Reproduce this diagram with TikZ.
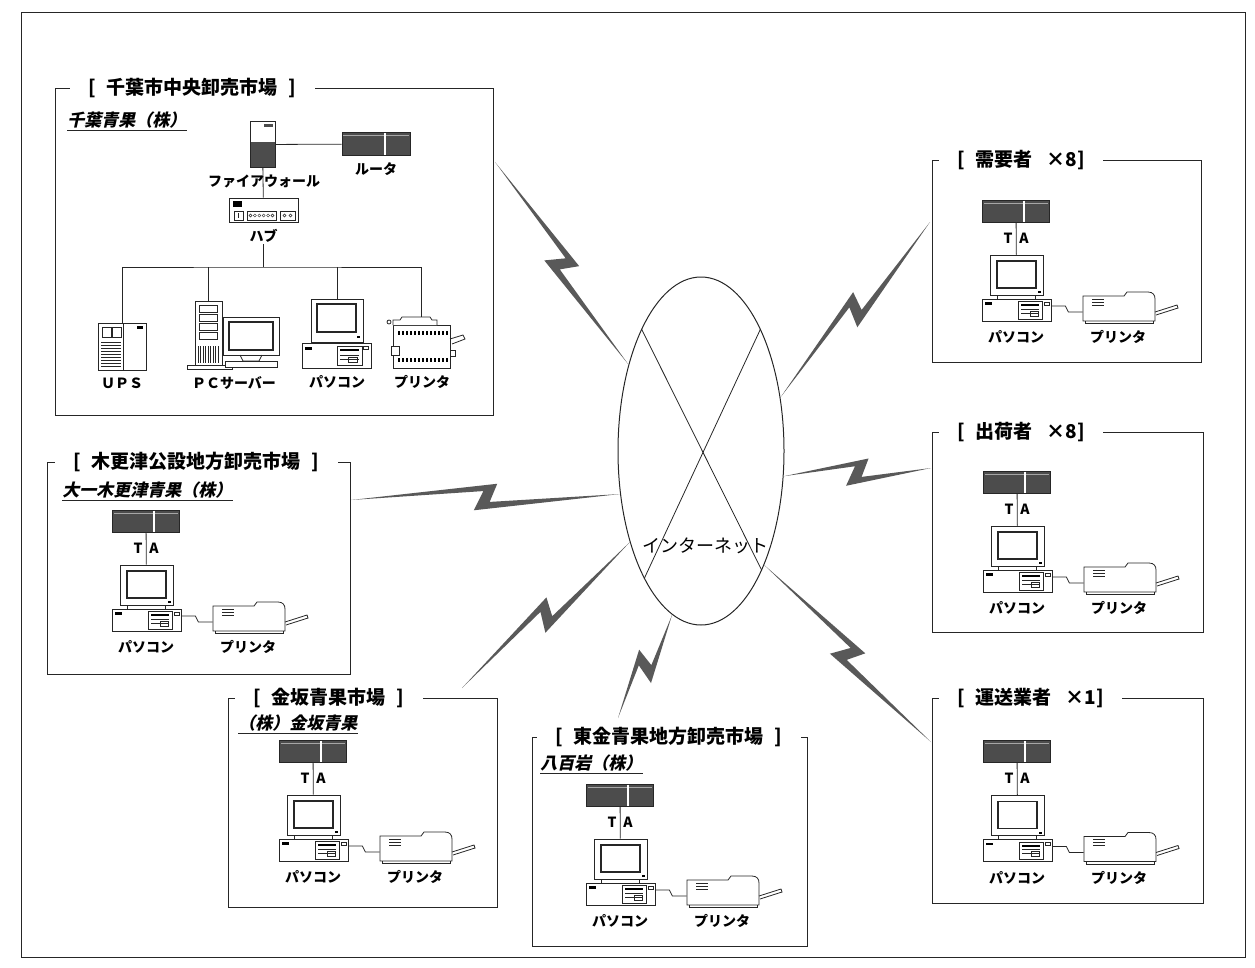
\documentclass[tikz,border=0pt]{standalone}
\usepackage{fontspec}
\setmainfont{Noto Sans CJK JP}
\newfontfamily\slantjp[FakeSlant=0.22]{Noto Sans CJK JP}
\usetikzlibrary{calc, shapes.geometric}

% lightning link between two points
\newcommand{\bolt}[2]{%
  \fill[boltfill] (#1)
    -- ($(#1)!0.5!(#2)!12pt!(#2)!13pt!90:(#2)$)
    -- ($(#1)!0.5!(#2)!4pt!(#2)!5pt!-90:(#2)$)
    -- (#2)
    -- ($(#1)!0.5!(#2)!-12pt!(#2)!13pt!-90:(#2)$)
    -- ($(#1)!0.5!(#2)!-2pt!(#2)!6pt!90:(#2)$)
    -- cycle;}

% TA + PC + printer, #1 prefix, (#2,#3) centre of the TA
\newcommand{\terminal}[3]{%
  \begin{scope}[shift={(#2,#3)}]
    \node[ta] (#1ta) at (0,0) {};
    \draw[white, line width=1.2pt] (8,-10.5) -- (8,10.5);
    \draw[black!35, line width=0.4pt] (-32,-8) -- (7,-8) (9,-8) -- (32,-8);
    \node[devlabel] (#1T) at (-8,27) {T};
    \node[devlabel] (#1A) at (8,27) {A};
    % monitor
    \node[dev, minimum width=53pt, minimum height=40pt] (#1mon) at (0.5,64) {};
    \draw[line width=1.1pt] (-19,50) rectangle (20,77);
    \fill (22,80) rectangle (25,82);
    \draw (-19,84) -- (-19,88) (19,84) -- (19,88);
    % desktop unit
    \node[dev, minimum width=69pt, minimum height=22pt] (#1pc) at (0.5,99) {};
    \fill (-31,91) rectangle (-24,93.5);
    \draw (2,90.5) rectangle (26,108);
    \fill (5,93) rectangle (23,95);
    \draw (5,98) -- (23,98) (5,102) -- (23,102);
    \draw (14,100) rectangle (22,105);
    \draw (28,91) rectangle (33,94);
    % printer
    \node[inner sep=0pt, minimum width=72pt, minimum height=25pt] (#1prn) at (103,97.5) {};
    \draw[fill=white] (67,85) -- (108,85) -- (111,81) -- (132,81)
      .. controls (137,81) and (139,84) .. (139,88) -- (139,110) -- (67,110) -- cycle;
    \draw (69,110) -- (69,112.5) -- (137,112.5) -- (137,110);
    \draw (139,101) -- (161,94) -- (162,97) -- (140,104);
    \draw (76,88) -- (88,88) (76,91) -- (88,91) (76,94) -- (88,94);
    % cables
    \draw[wire] (#1ta) -- (#1mon);
    \draw[wire] ([yshift=4pt]#1pc.east) -- ++(14,0) -- ++(3,6) -- ([yshift=-3.5pt]#1prn.west);
    \node[devlabel] (#1pcL) at (0,126) {パソコン};
    \node[devlabel] (#1prnL) at (102,126) {プリンタ};
  \end{scope}}

\begin{document}
\begin{tikzpicture}[
    x=1pt, y=-1pt,
    line width=0.8pt, draw=black!85,
    frame/.style={draw=black!85, line width=1pt},
    title/.style={fill=white, anchor=west, inner xsep=18pt, inner ysep=2pt, font=\bfseries\fontsize{19}{22}\selectfont},
    company/.style={anchor=west, inner xsep=0pt, inner ysep=2pt, font=\slantjp\bfseries\fontsize{17}{19}\selectfont},
    dev/.style={draw, line width=0.8pt, fill=white, inner sep=0pt},
    ta/.style={draw, line width=0.8pt, fill=black!70, minimum width=67pt, minimum height=22pt, inner sep=0pt},
    devlabel/.style={font=\bfseries\fontsize{14}{16}\selectfont, inner sep=1pt},
    wire/.style={draw=black!85, line width=0.8pt},
    boltfill/.style={fill=black!65}
]
\useasboundingbox (0,0) rectangle (1255,967);
\draw[frame] (21,12) rectangle (1245,957);

% the internet
\node[draw, ellipse, line width=1pt, minimum width=166pt, minimum height=348pt, inner sep=0pt] (net) at (701,451) {};
\draw (net.116) -- (net.-63);
\draw (net.64) -- (net.-114);
\node[font=\fontsize{18}{20}\selectfont] (netL) at (705,546) {インターネット};

% ---- Chiba central market
\draw[frame] (55,88) rectangle (493,415);
\node[title] (chibaT) at (70,88) {[\hspace{11pt}千葉市中央卸売市場\hspace{11pt}]};
\node[company] (chibaCo) at (67,120) {千葉青果（株）};
\draw (chibaCo.south west) -- (chibaCo.south east);

\node[dev, minimum width=25pt, minimum height=46pt] (fw) at (262.5,144.5) {};
\fill[black!70] (250.5,142) rectangle (274.5,167);
\fill[black!70] (264,124) rectangle (273,127);
\node[devlabel] (fwL) at (264,181) {ファイアウォール};

\node[ta, minimum width=68pt, minimum height=23pt] (rt) at (376,144) {};
\draw[white, line width=1.2pt] (385,133) -- (385,155);
\draw[black!35, line width=0.4pt] (343,135.5) -- (384,135.5) (386,135.5) -- (409,135.5);
\node[devlabel] (rtL) at (376,169) {ルータ};
\draw[wire] (fw) -- (rt);

\node[dev, minimum width=69pt, minimum height=24pt] (hub) at (263.5,210) {};
\fill (233,201) rectangle (242,207);
\draw (234,211) rectangle (243,220);
\draw (247,211) rectangle (276,220);
\draw (280,211) rectangle (295,220);
\foreach \i in {0,...,5} \draw[line width=0.4pt] (250.5+4.4*\i,215.5) circle (1.5pt);
\draw[line width=0.4pt] (284.5,215.5) circle (1.5pt) (290.5,215.5) circle (1.5pt);
\draw[line width=0.4pt] (238.5,213) -- (238.5,218);
\node[devlabel] (hubL) at (263.5,236) {ハブ};
\draw[wire] (fw) -- (hub);
\coordinate (bus) at (263.5,267);
\draw[wire] (hubL) -- (bus);

% UPS
\node[dev, minimum width=48pt, minimum height=47pt] (ups) at (122,346.5) {};
\draw (123,323) -- (123,370);
\draw (102,327) rectangle (111,337) (112,327) rectangle (121,337);
\foreach \y in {342,345,...,366} \draw[line width=0.5pt] (101,\y) -- (121,\y);
\fill (137,326) rectangle (143,328.5);
\node[devlabel] (upsL) at (122,383) {ＵＰＳ};

% PC server
\node[dev, minimum width=27pt, minimum height=64pt] (srv) at (208.5,333) {};
\foreach \y in {305,314,323,332} \draw (199,\y) rectangle (217,\y+7);
\foreach \x in {198,200.5,...,219} \draw[line width=0.4pt] (\x,346) -- (\x,363);
\draw[fill=white] (187,365) rectangle (232,369);
\node[dev, minimum width=56pt, minimum height=38pt] (srvMon) at (251,336) {};
\draw[line width=1.1pt] (229,322) rectangle (273,350);
\draw (240,355) -- (243,361) -- (259,361) -- (262,355);
\draw[fill=white] (225,361) rectangle (277,367);
\node[devlabel] (srvL) at (234,383) {ＰＣサーバー};

% PC
\node[dev, minimum width=52pt, minimum height=43pt] (chibaMon) at (337,320.5) {};
\draw[line width=1.1pt] (317,304) rectangle (356,332);
\fill (357,336) rectangle (360,338);
\node[dev, minimum width=69pt, minimum height=25pt] (chibaPc) at (336.5,355.5) {};
\fill (305,347) rectangle (312,349.5);
\draw (337,346) rectangle (362,365);
\fill (340,349) rectangle (359,351);
\draw (340,355) -- (359,355) (340,359) -- (359,359);
\draw (348,357) rectangle (357,362);
\draw (363,346) rectangle (368,349);
\node[devlabel] (chibaPcL) at (337,382) {パソコン};

% printer
\node[dev, minimum width=57pt, minimum height=43pt] (chibaPrn) at (421.5,346.5) {};
\foreach \x in {398,402,...,446} {
  \fill (\x,331) rectangle (\x+1.6,335);
  \fill (\x,358) rectangle (\x+1.6,362);
}
\draw[fill=white] (391,346) rectangle (399,355);
\draw (450,339) -- (463,335) -- (465,339) -- (452,344);
\draw (450,350) rectangle (455,356);
\node[devlabel] (chibaPrnL) at (422,382) {プリンタ};

% LAN
\draw[wire] (ups.north) |- (bus) -| (chibaPrn.north);
\draw[wire] (srv.north) -- (srv.north |- bus);
\draw[wire] (chibaMon.north) -- (chibaMon.north |- bus);
\draw[fill=white] (393,325) -- (393,320) -- (400,320) -- (402,317) -- (430,317) -- (432,320) -- (437,320) -- (437,325);
\draw[fill=white] (389,322) circle (2pt);

% ---- Kisarazu
\draw[frame] (47,462) rectangle (350,674);
\node[title] (kisT) at (55,462) {[\hspace{11pt}木更津公設地方卸売市場\hspace{11pt}]};
\node[company] (kisCo) at (62,490) {大一木更津青果（株）};
\draw (kisCo.south west) -- (kisCo.south east);
\terminal{kis}{146}{521}

% ---- Kanesaka
\draw[frame] (228,698) rectangle (497,907);
\node[title] (kanT) at (235,698) {[\hspace{11pt}金坂青果市場\hspace{11pt}]};
\node[company] (kanCo) at (238,723) {（株）金坂青果};
\draw (kanCo.south west) -- (kanCo.south east);
\terminal{kan}{313}{751}

% ---- Togane
\draw[frame] (532,737) rectangle (807,946);
\node[title] (togT) at (537,737) {[\hspace{11pt}東金青果地方卸売市場\hspace{11pt}]};
\node[company] (togCo) at (540,763) {八百岩（株）};
\draw (togCo.south west) -- (togCo.south east);
\terminal{tog}{620}{795}

% ---- users
\draw[frame] (932,160) rectangle (1201,362);
\node[title] (demT) at (939,160) {[\hspace{11pt}需要者\hspace{14pt}×8]};
\terminal{dem}{1016}{211}

\draw[frame] (932,432) rectangle (1203,632);
\node[title] (shuT) at (939,432) {[\hspace{11pt}出荷者\hspace{14pt}×8]};
\terminal{shu}{1017}{482}

\draw[frame] (932,698) rectangle (1203,903);
\node[title] (unsoT) at (939,698) {[\hspace{11pt}運送業者\hspace{14pt}×1]};
\terminal{unso}{1017}{751.5}

% links to the internet
\coordinate (chibaLink) at (495,162);
\coordinate (kisLink) at (351,500);
\coordinate (kanLink) at (462,688);
\coordinate (togLink) at (618,718);
\coordinate (demLink) at (930,222);
\coordinate (shuLink) at (931,468);
\coordinate (unsoLink) at (931,742);

\bolt{chibaLink}{net.130}
\bolt{kisLink}{net.208}
\bolt{kanLink}{net.232}
\bolt{togLink}{net.260}
\bolt{net.34}{demLink}
\bolt{net.-17}{shuLink}
\bolt{net.-61}{unsoLink}
\end{tikzpicture}
\end{document}
